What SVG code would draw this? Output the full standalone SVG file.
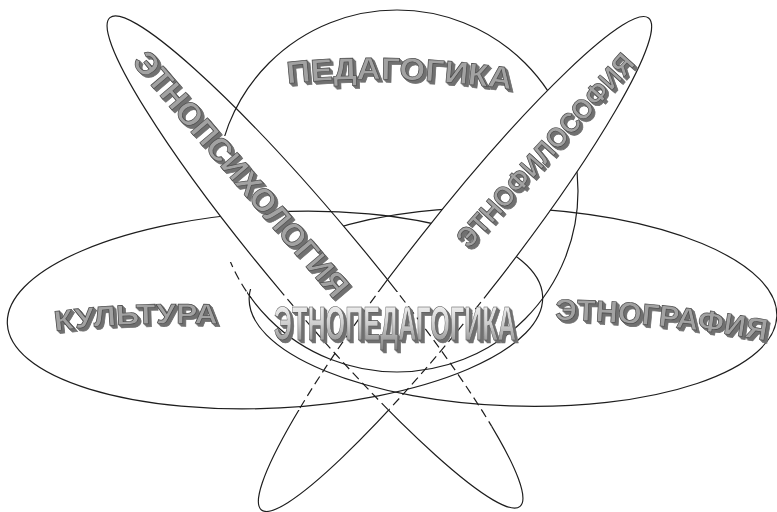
<svg xmlns="http://www.w3.org/2000/svg" xmlns:xlink="http://www.w3.org/1999/xlink" width="777" height="512" viewBox="0 0 777 512">
<style>
.ln{fill:none;stroke:#1e1e1e;stroke-width:1.2}
.dsh{stroke-dasharray:9 5}
.wa{font-family:"Liberation Sans","DejaVu Sans",Arial,sans-serif;font-weight:700;fill:#a2a2a2;stroke:#4d4d4d;stroke-width:0.7;filter:url(#sh)}
.blk{fill:#000}
</style>
<defs>
<filter id="sh" x="-20%" y="-30%" width="140%" height="160%">
<feOffset in="SourceAlpha" dx="1" dy="1" result="a"/>
<feOffset in="SourceAlpha" dx="2" dy="2" result="b"/>
<feOffset in="SourceAlpha" dx="3" dy="3" result="c"/>
<feMerge result="m"><feMergeNode in="a"/><feMergeNode in="b"/><feMergeNode in="c"/></feMerge>
<feColorMatrix in="m" type="matrix" values="0 0 0 0 0.16  0 0 0 0 0.16  0 0 0 0 0.16  0 0 0 1 0" result="s"/>
<feMerge><feMergeNode in="s"/><feMergeNode in="SourceGraphic"/></feMerge>
</filter>
<linearGradient id="gEP" x1="0" y1="0" x2="0" y2="1">
<stop offset="0" stop-color="#ffffff"/>
<stop offset="0.5" stop-color="#cfcfcf"/>
<stop offset="1" stop-color="#808080"/>
</linearGradient>
<clipPath id="cUp262"><rect x="0" y="0" width="777" height="262"/></clipPath>
<clipPath id="cUp205"><rect x="0" y="0" width="777" height="205"/></clipPath>
<clipPath id="cSolid"><rect x="0" y="0" width="777" height="292"/><polygon points="0,410 450,410 520,438 777,438 777,512 0,512"/></clipPath>
<clipPath id="cDash"><polygon points="0,292 777,292 777,438 520,438 450,410 0,410"/></clipPath>
<clipPath id="cCircDash"><rect x="195" y="262" width="57" height="36"/></clipPath>
<mask id="mCirc" maskUnits="userSpaceOnUse" x="0" y="0" width="777" height="512">
<rect width="777" height="512" fill="#fff"/>
<rect x="195" y="136" width="52" height="162" class="blk"/>
<g clip-path="url(#cUp205)"><ellipse cx="455" cy="264" rx="313" ry="44" transform="rotate(-51.8 455 264)" class="blk"/></g>
</mask>
<mask id="mKult" maskUnits="userSpaceOnUse" x="0" y="0" width="777" height="512">
<rect width="777" height="512" fill="#fff"/>
<g clip-path="url(#cUp262)"><ellipse cx="315" cy="262" rx="319" ry="45" transform="rotate(50 315 262)" class="blk"/></g>
<rect x="286" y="200" width="60" height="24" fill="#fff"/>
<g clip-path="url(#cUp262)"><ellipse cx="455" cy="264" rx="313" ry="44" transform="rotate(-51.8 455 264)" class="blk"/></g>
</mask>
<mask id="mEtg" maskUnits="userSpaceOnUse" x="0" y="0" width="777" height="512">
<rect width="777" height="512" fill="#fff"/>
<g clip-path="url(#cUp262)"><ellipse cx="315" cy="262" rx="319" ry="45" transform="rotate(50 315 262)" class="blk"/>
<ellipse cx="455" cy="264" rx="313" ry="44" transform="rotate(-51.8 455 264)" class="blk"/></g>
<rect x="238" y="225" width="62" height="64" class="blk"/>
</mask>
<path id="pPed" d="M285,84 Q390,72 514,90"/>
<path id="pKul" d="M53,331 Q130,321 220,324"/>
<path id="pEtg" d="M553,320 Q655,321 768,341"/>
</defs>

<g id="pedagogika">
<g mask="url(#mCirc)"><circle class="ln" cx="397" cy="191" r="181"/></g>
<g clip-path="url(#cCircDash)"><circle class="ln dsh" cx="397" cy="191" r="181"/></g>
<text class="wa" font-size="31"><textPath xlink:href="#pPed" href="#pPed" startOffset="50%" text-anchor="middle" textLength="224" lengthAdjust="spacingAndGlyphs">ПЕДАГОГИКА</textPath></text>
</g>

<g id="kultura">
<g mask="url(#mKult)"><ellipse class="ln" cx="275" cy="310" rx="268" ry="98" transform="rotate(-3 275 310)"/></g>
<text class="wa" font-size="28"><textPath xlink:href="#pKul" href="#pKul" startOffset="50%" text-anchor="middle" textLength="163" lengthAdjust="spacingAndGlyphs">КУЛЬТУРА</textPath></text>
</g>

<g id="etnografiya">
<g mask="url(#mEtg)"><ellipse class="ln" cx="513" cy="307" rx="264" ry="99" transform="rotate(2 513 307)"/></g>
<text class="wa" font-size="30"><textPath xlink:href="#pEtg" href="#pEtg" startOffset="50%" text-anchor="middle" textLength="212" lengthAdjust="spacingAndGlyphs">ЭТНОГРАФИЯ</textPath></text>
</g>

<g id="etnopsihologiya">
<g clip-path="url(#cSolid)"><ellipse class="ln" cx="315" cy="262" rx="319" ry="45" transform="rotate(50 315 262)"/></g>
<g clip-path="url(#cDash)"><ellipse class="ln dsh" cx="315" cy="262" rx="319" ry="45" transform="rotate(50 315 262)"/></g>
<g class="wa" font-size="32">
<text transform="translate(241,174) rotate(49.5)" x="0" y="11" text-anchor="middle" textLength="312" lengthAdjust="spacingAndGlyphs">ЭТНОПСИХОЛОГИЯ</text>
</g>
</g>

<g id="etnofilosofiya">
<g clip-path="url(#cSolid)"><ellipse class="ln" cx="455" cy="264" rx="313" ry="44" transform="rotate(-51.8 455 264)"/></g>
<g clip-path="url(#cDash)"><ellipse class="ln dsh" cx="455" cy="264" rx="313" ry="44" transform="rotate(-51.8 455 264)"/></g>
<g class="wa" font-size="28">
<text transform="translate(545,150) rotate(-48)" x="0" y="10" text-anchor="middle" textLength="250" lengthAdjust="spacingAndGlyphs">ЭТНОФИЛОСОФИЯ</text>
</g>
</g>

<g id="etnopedagogika">
<g class="wa" style="fill:url(#gEP)">
<text transform="translate(395,340) scale(0.54,1)" x="0" y="0" font-size="48" text-anchor="middle" textLength="448" lengthAdjust="spacingAndGlyphs">ЭТНОПЕДАГОГИКА</text>
</g>
</g>
</svg>
